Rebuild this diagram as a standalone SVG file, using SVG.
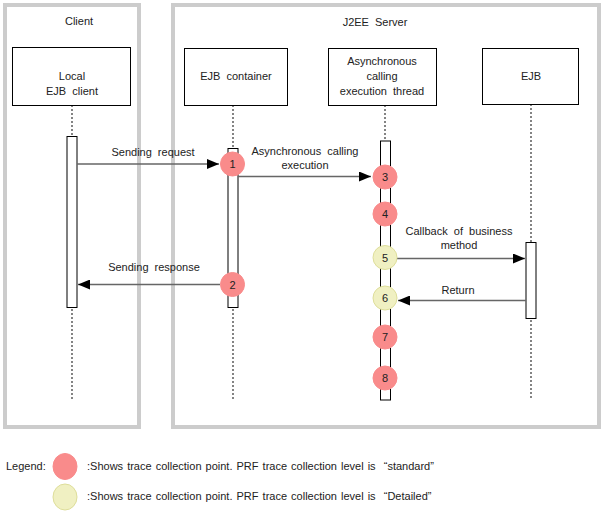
<svg xmlns="http://www.w3.org/2000/svg" width="603" height="513" viewBox="0 0 603 513">
<defs>
<style>
text{font-family:"Liberation Sans",Arial,sans-serif;font-size:11px;fill:#222;word-spacing:3px}
.c{text-anchor:middle}
.lg{word-spacing:1px}
.frame{fill:none;stroke:#cccccc;stroke-width:4}
.box{fill:#fff;stroke:#000;stroke-width:1}
.bar{fill:#fff;stroke:#000;stroke-width:1}
.life{stroke:#333;stroke-width:1.2;stroke-dasharray:2,2;fill:none}
.msg{stroke:#666;stroke-width:1.5;fill:none}
.std{fill:#f98b8b;stroke:#f98b8b}
.det{fill:#f0f0c2;stroke:#dede9a;stroke-width:1}
</style>
<marker id="ah" markerWidth="12" markerHeight="10" refX="12" refY="5" orient="auto" markerUnits="userSpaceOnUse">
<path d="M0,0 L12,5 L0,10 Z" fill="#000"/>
</marker>
</defs>
<rect width="603" height="513" fill="#fff"/>

<g id="client-frame">
<rect class="frame" x="5" y="5" width="134" height="422"/>
<text class="c" x="79" y="25">Client</text>
</g>
<g id="server-frame">
<rect class="frame" x="173" y="5" width="426" height="422"/>
<text class="c" x="375" y="26">J2EE Server</text>
</g>

<g id="lifelines">
<line class="life" x1="72" y1="105" x2="72" y2="400"/>
<line class="life" x1="233" y1="105" x2="233" y2="400"/>
<line class="life" x1="385" y1="105" x2="385" y2="400"/>
<line class="life" x1="531" y1="104" x2="531" y2="400"/>
</g>

<g id="local-ejb-client">
<rect class="box" x="12.5" y="47.5" width="118" height="58"/>
<text class="c" x="72" y="80">Local</text>
<text class="c" x="72" y="95">EJB client</text>
<rect class="bar" x="67" y="136.5" width="10" height="171"/>
</g>
<g id="ejb-container">
<rect class="box" x="184.5" y="48.5" width="103" height="57"/>
<text class="c" x="236" y="80">EJB container</text>
<rect class="bar" x="228" y="148.5" width="10" height="159"/>
</g>
<g id="async-thread">
<rect class="box" x="328.5" y="48.5" width="108" height="57"/>
<text class="c" x="382" y="65">Asynchronous</text>
<text class="c" x="382" y="80">calling</text>
<text class="c" x="382" y="95">execution thread</text>
<rect class="bar" x="380.5" y="141" width="10" height="259"/>
</g>
<g id="ejb">
<rect class="box" x="482.5" y="48.5" width="96" height="56"/>
<text class="c" x="531" y="80">EJB</text>
<rect class="bar" x="526" y="242.5" width="10" height="76"/>
</g>

<g id="connectors">
<line class="msg" x1="77" y1="164" x2="219" y2="164" marker-end="url(#ah)"/>
<text class="c" x="153" y="156">Sending request</text>
<line class="msg" x1="238" y1="176.5" x2="371" y2="176.5" marker-end="url(#ah)"/>
<text class="c" x="305" y="155">Asynchronous calling</text>
<text class="c" x="305" y="169">execution</text>
<line class="msg" x1="220" y1="284.5" x2="78" y2="284.5" marker-end="url(#ah)"/>
<text class="c" x="154" y="271">Sending response</text>
<line class="msg" x1="397" y1="258.5" x2="525" y2="258.5" marker-end="url(#ah)"/>
<text class="c" x="459" y="235">Callback of business</text>
<text class="c" x="459" y="249">method</text>
<line class="msg" x1="526" y1="300.5" x2="398" y2="300.5" marker-end="url(#ah)"/>
<text class="c" x="458" y="294">Return</text>
</g>

<g id="point-1"><circle class="std" cx="232.5" cy="164" r="12"/><text class="c" x="232.5" y="168">1</text></g>
<g id="point-2"><circle class="std" cx="232.5" cy="284.5" r="12"/><text class="c" x="232.5" y="288.5">2</text></g>
<g id="point-3"><circle class="std" cx="385" cy="177" r="12"/><text class="c" x="385" y="181">3</text></g>
<g id="point-4"><circle class="std" cx="385" cy="214" r="12"/><text class="c" x="385" y="218">4</text></g>
<g id="point-5"><circle class="det" cx="385" cy="257.5" r="12"/><text class="c" x="385" y="261.5">5</text></g>
<g id="point-6"><circle class="det" cx="385" cy="298" r="12"/><text class="c" x="385" y="302">6</text></g>
<g id="point-7"><circle class="std" cx="385" cy="337" r="12"/><text class="c" x="385" y="341">7</text></g>
<g id="point-8"><circle class="std" cx="385" cy="378" r="12"/><text class="c" x="385" y="382">8</text></g>

<g id="legend">
<text x="6" y="470">Legend:</text>
<ellipse class="std" cx="65" cy="466.5" rx="12" ry="13"/>
<text class="lg" x="87" y="470">:Shows trace collection point. PRF trace collection level is&#160; “standard”</text>
<ellipse class="det" cx="65" cy="497" rx="12" ry="13"/>
<text class="lg" x="87" y="500">:Shows trace collection point. PRF trace collection level is&#160; “Detailed”</text>
</g>
</svg>
